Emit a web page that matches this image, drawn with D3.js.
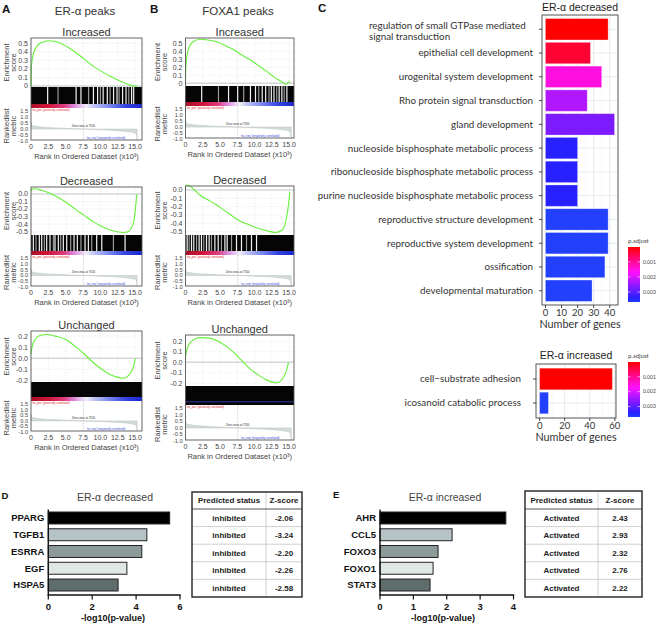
<!DOCTYPE html>
<html>
<head>
<meta charset="utf-8">
<title>ER-α / FOXA1 peaks</title>
<script src="https://cdnjs.cloudflare.com/ajax/libs/d3/7.8.5/d3.min.js"></script>
<style>
  body { margin: 0; background: #fff; }
  svg { display: block; font-family: "Liberation Sans", Arial, sans-serif; }
  .panel { font-weight: bold; fill: #111; }
  .gtitle { font-size: 11px; fill: #333; }
  .gtick { font-size: 7px; fill: #444; }
  .mtick { font-size: 5.6px; fill: #444; }
  .gaxis { font-size: 7.5px; fill: #444; }
  .tiny { font-size: 2.8px; }
  .go-label { font-family: Lato, "Open Sans", sans-serif; font-size: 9.8px; fill: #333; }
  .go-tick { font-family: Lato, "Open Sans", sans-serif; font-size: 9.5px; fill: #333; }
  .go-title { font-family: Lato, "Open Sans", sans-serif; font-size: 10.8px; fill: #333; }
  .leg { font-family: Lato, sans-serif; fill: #444; }
  .reg { font-weight: bold; fill: #111; }
  .tbl { font-weight: bold; font-size: 8px; fill: #222; }
</style>
</head>
<body>
<script>
// ---------- GSEA data (rank in x10^3, enrichment score) ----------
const rankTicks = [0, 2.5, 5, 7.5, 10, 12.5, 15];
const rankLabels = ["0", "2.5", "5.0", "7.5", "10.0", "12.5", "15.0"];
const metricTicks = [1.5, 1.0, 0.5, 0.0, -0.5, -1.0];
const metricLabels = ["1.5", "1.0", "0.5", "0.0", "-0.5", "-1.0"];

const esTicksInc = [0.5, 0.4, 0.3, 0.2, 0.1, 0];
const esLabelsInc = ["0.5", "0.4", "0.3", "0.2", "0.1", "0"];
const esTicksDec = [0, -0.1, -0.2, -0.3, -0.4, -0.5];
const esLabelsDec = ["0.0", "-0.1", "-0.2", "-0.3", "-0.4", "-0.5"];
const esTicksUnc = [0.2, 0.1, 0, -0.1, -0.2];
const esLabelsUnc = ["0.2", "0.1", "0.0", "-0.1", "-0.2"];

const esAInc = [[0,0],[0.05,0.22],[0.3,0.36],[0.8,0.46],[1.5,0.51],[2.6,0.53],[4,0.51],[5.2,0.46],[6.5,0.39],[7.6,0.32],[9,0.23],[10,0.18],[11.5,0.11],[12.5,0.07],[13.5,0.035],[14.3,0.01],[15,0],[15.3,0]];
const esADec = [[0,0.04],[0.1,0.06],[0.5,0.07],[1.5,0.05],[2.7,0.01],[4,-0.05],[5.2,-0.12],[6.5,-0.21],[7.6,-0.28],[9,-0.37],[10,-0.42],[11.2,-0.47],[12.4,-0.5],[13.3,-0.51],[14,-0.5],[14.4,-0.46],[14.8,-0.37],[15.05,-0.2],[15.25,0]];
const esAUnc = [[0,0.04],[0.15,0.1],[0.6,0.17],[1.3,0.205],[2.3,0.215],[3.5,0.2],[5.15,0.165],[6.5,0.1],[7.55,0.045],[9,-0.04],[10,-0.09],[11.2,-0.14],[12.4,-0.17],[13.3,-0.18],[14.3,-0.135],[14.8,-0.07],[15.05,0]];
const esBInc = [[0,0.05],[0.05,0.2],[0.4,0.42],[1.1,0.52],[2.1,0.55],[3.3,0.54],[4.5,0.52],[6,0.46],[7,0.42],[8.2,0.35],[9.4,0.29],[10.6,0.22],[11.8,0.145],[12.8,0.08],[13.5,0.04],[14.3,0],[14.6,-0.015],[14.9,0.015],[15.2,0.02]];
const esBDec = [[0,0.06],[0.6,0.05],[1.3,0.0],[2.07,-0.06],[3.3,-0.12],[4.5,-0.18],[5.7,-0.25],[6.9,-0.32],[8.1,-0.38],[9.3,-0.42],[10.5,-0.46],[11.8,-0.49],[13,-0.51],[14,-0.48],[14.6,-0.34],[14.9,-0.18],[15.1,-0.02]];
const esBUnc = [[0,0.05],[0.2,0.12],[0.6,0.18],[1.3,0.22],[2.07,0.235],[3.5,0.23],[5,0.19],[6.9,0.1],[8.1,0.02],[9.3,-0.06],[10.5,-0.12],[11.8,-0.17],[13.2,-0.195],[14.2,-0.14],[14.6,-0.08],[14.9,0]];

// gaps (ranks without hits) in the black barcode
const gapsAInc = [2.4, 3.9, 6.5, 7.2, 8.3, 9.0, 9.6, 10.0, 10.4, 11.0, 11.4, 11.9, 12.4, 12.7, 13.2, 13.7, 14.1, 14.5, 14.8];
const gapsADec = [0.34, 0.72, 1.2, 1.54, 1.92, 2.26, 2.74, 3.22, 3.46, 3.94, 4.28, 4.66, 5.15, 5.72, 6.2, 6.68, 7.2, 7.79, 8.27, 8.75, 9.47, 10.2, 11.88, 13.56];
const gapsBInc = [2.34, 4.77, 6.23, 7.55, 8.42, 9.4, 10.13, 10.6, 11.1, 11.6, 12.08, 12.42, 12.8, 13.2, 13.55, 13.94, 14.28, 14.67];
const gapsBDec = [0.24, 0.53, 0.87, 1.2, 1.6, 1.97, 2.31, 2.65, 3.04, 3.42, 3.76, 4.25, 4.73, 5.2, 5.7, 6.03, 6.66, 7.38, 8.1, 8.83, 9.55, 10.28];

// ranked list metric
const rankedMetric = [[0,0.6],[0.1,0.35],[0.5,0.25],[1.5,0.18],[3,0.12],[5,0.06],[7.55,0],[10,-0.06],[12,-0.12],[14,-0.22],[15,-0.32],[15.2,-0.55],[15.3,-1.0]];
const zeroCross = 7.55;

// ---------- GO enrichment (panel C) ----------
const goDecTerms = ["regulation of small GTPase mediated\nsignal transduction", "epithelial cell development", "urogenital system development",
  "Rho protein signal transduction", "gland development", "nucleoside bisphosphate metabolic process",
  "ribonucleoside bisphosphate metabolic process", "purine nucleoside bisphosphate metabolic process",
  "reproductive structure development", "reproductive system development", "ossification", "developmental maturation"];
const goDecCounts = [39, 28, 35, 26, 43, 20, 20, 20, 39, 39, 37, 29];
const goDecPadj = [0.00002, 0.00035, 0.0015, 0.0023, 0.0027, 0.0034, 0.0034, 0.0034, 0.00366, 0.00366, 0.00366, 0.00366];
const goDecTicks = [0, 10, 20, 30, 40];

const goIncTerms = ["cell\u2212substrate adhesion", "icosanoid catabolic process"];
const goIncCounts = [58, 7];
const goIncPadj = [0.00001, 0.0037];
const goIncTicks = [0, 20, 40, 60];
const padjTicks = [0.001, 0.002, 0.003];

// ---------- upstream regulators (panels D, E) ----------
const regD = ["PPARG", "TGFB1", "ESRRA", "EGF", "HSPA5"];
const regDVal = [5.53, 4.49, 4.26, 3.58, 3.18];
const regDStatus = ["inhibited", "inhibited", "inhibited", "inhibited", "inhibited"];
const regDZ = ["-2.06", "-3.24", "-2.20", "-2.26", "-2.58"];
const regDTicks = [0, 2, 4, 6];

const regE = ["AHR", "CCL5", "FOXO3", "FOXO1", "STAT3"];
const regEVal = [3.77, 2.16, 1.74, 1.59, 1.50];
const regEStatus = ["Activated", "Activated", "Activated", "Activated", "Activated"];
const regEZ = ["2.43", "2.93", "2.32", "2.76", "2.22"];
const regETicks = [0, 1, 2, 3, 4];

const regFills = ["#000000", "#b5c3c7", "#8c9a9a", "#dfe6e6", "#5e6c6c"];

// ==========================================================
const svg = d3.select("body").append("svg").attr("width", 657).attr("height", 625);
const defs = svg.append("defs");

// red -> blue strip under the barcode
const strip = defs.append("linearGradient").attr("id", "strip");
[[0, "#a8102a"], [0.15, "#d01438"], [0.3, "#dc3c7c"], [0.38, "#dc80d4"], [0.45, "#e6c4f0"],
 [0.5, "#f0eef8"], [0.56, "#c4c8f6"], [0.7, "#7c88ee"], [0.85, "#3444e0"], [1, "#1a26d4"]]
  .forEach(s => strip.append("stop").attr("offset", s[0]).attr("stop-color", s[1]));

function drawGsea(o) {
  const g = svg.append("g");
  const x = d3.scaleLinear().domain([0, o.xMax]).range([o.x0, o.x1]);
  const esBot = o.top + o.esH, barBot = esBot + o.barH, stripBot = barBot + 4;
  const y = d3.scaleLinear().domain(o.esDomain).range([esBot, o.top]);
  const m = d3.scaleLinear().domain([1.5, -1.0]).range([stripBot + 3.2, o.bottom + 1]);

  g.append("text").attr("class", "gtitle").attr("x", (o.x0 + o.x1) / 2).attr("y", o.top - 2.5)
    .attr("text-anchor", "middle").text(o.title);

  // grid
  g.selectAll(".vg").data(rankTicks).join("line")
    .attr("x1", d => x(d)).attr("x2", d => x(d)).attr("y1", o.top).attr("y2", esBot)
    .attr("stroke", "#e2e2e2").attr("stroke-width", 0.6).attr("stroke-dasharray", "1,1");
  g.selectAll(".hg").data(o.esTicks).join("line")
    .attr("x1", o.x0).attr("x2", o.x1).attr("y1", d => y(d)).attr("y2", d => y(d))
    .attr("stroke", "#e2e2e2").attr("stroke-width", 0.6).attr("stroke-dasharray", "1,1");
  g.append("line").attr("x1", o.x0).attr("x2", o.x1).attr("y1", y(0)).attr("y2", y(0))
    .attr("stroke", "#d2d8d8").attr("stroke-width", 1.6);

  // enrichment curve
  const line = d3.line().x(d => x(d[0])).y(d => y(d[1])).curve(d3.curveMonotoneX);
  g.append("path").datum(o.es).attr("d", line).attr("fill", "none")
    .attr("stroke", "#66f03a").attr("stroke-width", 1.1);

  // barcode
  g.append("rect").attr("x", o.x0).attr("y", esBot).attr("width", o.x1 - o.x0).attr("height", o.barH).attr("fill", "#050505");
  g.selectAll(".gap").data(o.gaps).join("rect")
    .attr("x", d => x(d) - 0.6).attr("y", esBot).attr("width", 1.2).attr("height", o.barH)
    .attr("fill", (d, i) => i % 3 === 1 ? "#9a9a9a" : "#f2f2f2");

  // colour strip
  if (o.darkStrip) {
    g.append("rect").attr("x", o.x0).attr("y", barBot).attr("width", o.x1 - o.x0).attr("height", 4).attr("fill", "#050505");
    g.append("line").attr("x1", o.x0).attr("x2", o.x1).attr("y1", barBot + 0.8).attr("y2", barBot + 0.8)
      .attr("stroke", "#4450e0").attr("stroke-width", 0.7);
  } else {
    g.append("rect").attr("x", o.x0).attr("y", barBot).attr("width", o.x1 - o.x0).attr("height", 4).attr("fill", "url(#strip)");
  }

  // ranked list metric
  const area = d3.area().x(d => x(d[0])).y0(m(0)).y1(d => Math.min(m(d[1]), o.bottom)).curve(d3.curveMonotoneX);
  g.append("path").datum(rankedMetric).attr("d", area)
    .attr("fill", "#d3dada").attr("stroke", "#b9c3c3").attr("stroke-width", 0.5);
  g.append("line").attr("x1", x(zeroCross)).attr("x2", x(zeroCross)).attr("y1", stripBot).attr("y2", o.bottom)
    .attr("stroke", "#aaa").attr("stroke-width", 0.6).attr("stroke-dasharray", "1.2,1.2");
  g.append("text").attr("class", "tiny").attr("x", o.x0 + 1).attr("y", stripBot + 3).attr("fill", "#e02020")
    .text("'na_pos' (positively correlated)");
  g.append("text").attr("class", "tiny").attr("x", x(zeroCross)).attr("y", m(0) - 2).attr("fill", "#222")
    .attr("text-anchor", "middle").text("Zero cross at " + Math.round(zeroCross * 1000));
  g.append("text").attr("class", "tiny").attr("x", x(zeroCross) + 3).attr("y", o.bottom - 1.5).attr("fill", "#3040e0")
    .text("'na_neg' (negatively correlated)");

  // frame
  g.append("rect").attr("x", o.x0).attr("y", o.top).attr("width", o.x1 - o.x0).attr("height", o.bottom - o.top)
    .attr("fill", "none").attr("stroke", "#555").attr("stroke-width", 0.9);

  // axes labels
  g.selectAll(".esl").data(o.esTicks).join("text").attr("class", "gtick")
    .attr("x", o.x0 - 3).attr("y", d => y(d) + 2.4).attr("text-anchor", "end")
    .text((d, i) => o.esLabels[i]);
  g.selectAll(".ml").data(metricTicks).join("text").attr("class", "mtick")
    .attr("x", o.x0 - 3).attr("y", d => m(d) + 2).attr("text-anchor", "end")
    .text((d, i) => metricLabels[i]);
  g.selectAll(".rl").data(rankTicks).join("text").attr("class", "gtick")
    .attr("x", d => x(d)).attr("y", o.bottom + 8.5).attr("text-anchor", "middle")
    .text((d, i) => rankLabels[i]);
  g.append("text").attr("class", "gaxis").attr("x", (o.x0 + o.x1) / 2).attr("y", o.bottom + 19)
    .attr("text-anchor", "middle").text("Rank in Ordered Dataset (x10\u00b3)");

  const yTitle = (lines, yc) => lines.forEach((t, i) =>
    g.append("text").attr("class", "gaxis").attr("text-anchor", "middle")
      .attr("transform", `translate(${o.yt + i * 6.5},${yc}) rotate(-90)`).text(t));
  yTitle(["Enrichment", "score"], (o.top + esBot) / 2);
  yTitle(["Rankedlist", "metric"], (stripBot + o.bottom) / 2 + 2);
}

const colA = { x0: 31, x1: 142, xMax: 16, yt: 9 };
const colB = { x0: 185.5, x1: 294, xMax: 15.7, yt: 160 };

drawGsea({ ...colA, title: "Increased", top: 38, esH: 49, barH: 17, bottom: 140, esDomain: [-0.012, 0.562],
  es: esAInc, esTicks: esTicksInc, esLabels: esLabelsInc, gaps: gapsAInc });
drawGsea({ ...colA, title: "Decreased", top: 187, esH: 48, barH: 16, bottom: 286, esDomain: [-0.544, 0.093],
  es: esADec, esTicks: esTicksDec, esLabels: esLabelsDec, gaps: gapsADec });
drawGsea({ ...colA, title: "Unchanged", top: 331, esH: 51, barH: 15, bottom: 431, esDomain: [-0.214, 0.246],
  es: esAUnc, esTicks: esTicksUnc, esLabels: esLabelsUnc, gaps: [] });
drawGsea({ ...colB, title: "Increased", top: 38, esH: 48, barH: 16, bottom: 138, esDomain: [-0.034, 0.566],
  es: esBInc, esTicks: esTicksInc, esLabels: esLabelsInc, gaps: gapsBInc });
drawGsea({ ...colB, title: "Decreased", top: 186, esH: 49, barH: 16, bottom: 286, esDomain: [-0.54, 0.048],
  es: esBDec, esTicks: esTicksDec, esLabels: esLabelsDec, gaps: gapsBDec });
drawGsea({ ...colB, title: "Unchanged", top: 335, esH: 51, barH: 15, bottom: 440, esDomain: [-0.226, 0.26],
  es: esBUnc, esTicks: esTicksUnc, esLabels: esLabelsUnc, gaps: [], darkStrip: true });

// panel letters and column titles
svg.append("text").attr("class", "panel").attr("x", 2).attr("y", 13).style("font-size", "11.5px").text("A");
svg.append("text").attr("class", "panel").attr("x", 150).attr("y", 13).style("font-size", "11.5px").text("B");
svg.append("text").attr("class", "panel").attr("x", 318).attr("y", 12).style("font-size", "11.5px").text("C");
svg.append("text").attr("class", "panel").attr("x", 1.5).attr("y", 499).style("font-size", "9.5px").text("D");
svg.append("text").attr("class", "panel").attr("x", 333).attr("y", 498).style("font-size", "9.5px").text("E");
svg.append("text").attr("class", "gtitle").attr("x", 85).attr("y", 15).attr("text-anchor", "middle")
  .style("font-size", "11.5px").text("ER-\u03b1 peaks");
svg.append("text").attr("class", "gtitle").attr("x", 238).attr("y", 15).attr("text-anchor", "middle")
  .style("font-size", "11.5px").text("FOXA1 peaks");

// ---------- panel C ----------
function drawGo(o) {
  const g = svg.append("g");
  const x = d3.scaleLinear().domain(o.xDomain).range([o.x0, o.x1]);
  const y = d3.scaleBand().domain(d3.range(o.terms.length)).range([o.y0, o.y1])
    .paddingInner(0.1).paddingOuter(o.po);
  const color = d3.scaleLinear().domain(o.pDomain).range(["#ff0000", "#2440ff"]).interpolate(d3.interpolateHsl);

  g.append("text").attr("x", (o.x0 + o.x1) / 2).attr("y", o.titleY).attr("text-anchor", "middle")
    .style("font-size", "10.5px").attr("fill", "#222").text(o.title);

  const step = o.ticks[1] - o.ticks[0];
  const minor = o.ticks.map(d => d + step / 2).filter(d => x(d) < o.x1 - 1);
  g.selectAll(".mg").data(minor).join("line").attr("x1", d => x(d)).attr("x2", d => x(d))
    .attr("y1", o.y0).attr("y2", o.y1).attr("stroke", "#f1f4f5").attr("stroke-width", 0.6);
  g.selectAll(".vg").data(o.ticks).join("line").attr("x1", d => x(d)).attr("x2", d => x(d))
    .attr("y1", o.y0).attr("y2", o.y1).attr("stroke", "#e5eaec").attr("stroke-width", 1);
  g.selectAll(".hg").data(o.terms).join("line").attr("x1", o.x0).attr("x2", o.x1)
    .attr("y1", (d, i) => y(i) + y.bandwidth() / 2).attr("y2", (d, i) => y(i) + y.bandwidth() / 2)
    .attr("stroke", "#e5eaec").attr("stroke-width", 1);

  g.selectAll(".bar").data(o.counts).join("rect")
    .attr("x", x(0)).attr("y", (d, i) => y(i)).attr("width", d => x(d) - x(0)).attr("height", y.bandwidth())
    .attr("fill", (d, i) => color(o.padj[i])).attr("stroke", "#fff").attr("stroke-opacity", 0.35).attr("stroke-width", 0.8);

  g.append("rect").attr("x", o.x0).attr("y", o.y0).attr("width", o.x1 - o.x0).attr("height", o.y1 - o.y0)
    .attr("fill", "none").attr("stroke", "#555").attr("stroke-width", 1);

  // y ticks + labels
  g.selectAll(".yt").data(o.terms).join("line").attr("x1", o.x0 - 3).attr("x2", o.x0)
    .attr("y1", (d, i) => y(i) + y.bandwidth() / 2).attr("y2", (d, i) => y(i) + y.bandwidth() / 2)
    .attr("stroke", "#333").attr("stroke-width", 0.9);
  o.terms.forEach((t, i) => {
    const lines = t.split("\n");
    const cy = y(i) + y.bandwidth() / 2;
    if (lines.length > 1) {
      lines.forEach((l, k) => g.append("text").attr("class", "go-label").attr("x", o.multiX)
        .attr("y", cy + 1.2 + (k - (lines.length - 1) / 2) * 11.6 + 4).text(l));
    } else {
      g.append("text").attr("class", "go-label").attr("x", o.labelX).attr("y", cy + 3.4)
        .attr("text-anchor", "end").text(t);
    }
  });

  // x ticks
  g.selectAll(".xt").data(o.ticks).join("line").attr("x1", d => x(d)).attr("x2", d => x(d))
    .attr("y1", o.y1).attr("y2", o.y1 + 3).attr("stroke", "#333").attr("stroke-width", 0.9);
  g.selectAll(".xl").data(o.ticks).join("text").attr("class", "go-tick")
    .attr("x", d => x(d)).attr("y", o.y1 + 11).attr("text-anchor", "middle").text(d => d);
  g.append("text").attr("class", "go-title").attr("x", (o.x0 + o.x1) / 2).attr("y", o.y1 + 22.5)
    .attr("text-anchor", "middle").text("Number of genes");

  // colour bar legend
  const grad = defs.append("linearGradient").attr("id", o.id).attr("x1", 0).attr("y1", 0).attr("x2", 0).attr("y2", 1);
  d3.range(0, 1.0001, 0.05).forEach(t => grad.append("stop").attr("offset", t)
    .attr("stop-color", color(o.pDomain[0] + t * (o.pDomain[1] - o.pDomain[0]))));
  const ly = d3.scaleLinear().domain(o.pDomain).range([o.ly0, o.ly1]);
  g.append("text").attr("class", "leg").attr("x", o.lx).attr("y", o.ly0 - 4).style("font-size", "6px").text("p.adjust");
  g.append("rect").attr("x", o.lx).attr("y", o.ly0).attr("width", 12).attr("height", o.ly1 - o.ly0).attr("fill", `url(#${o.id})`);
  g.selectAll(".lt").data(padjTicks).join("path")
    .attr("d", d => `M${o.lx},${ly(d)}h2.4M${o.lx + 9.6},${ly(d)}h2.4`).attr("stroke", "#fff").attr("stroke-width", 0.6);
  g.selectAll(".ll").data(padjTicks).join("text").attr("class", "leg").style("font-size", "5px")
    .attr("x", o.lx + 15).attr("y", d => ly(d) + 1.8).text(d => d3.format(".3f")(d));
}

drawGo({ id: "padjDec", title: "ER-\u03b1 decreased", titleY: 10.5, terms: goDecTerms, counts: goDecCounts, padj: goDecPadj,
  ticks: goDecTicks, xDomain: [-2.15, 45.15], x0: 542, x1: 618, y0: 15, y1: 305, po: 0.15,
  pDomain: [0.0000172, 0.00366], labelX: 533, multiX: 369, lx: 628, ly0: 247, ly1: 302 });
drawGo({ id: "padjInc", title: "ER-\u03b1 increased", titleY: 358.5, terms: goIncTerms, counts: goIncCounts, padj: goIncPadj,
  ticks: goIncTicks, xDomain: [-2.9, 60.9], x0: 536, x1: 616, y0: 364, y1: 418, po: 0.175,
  pDomain: [0.00001, 0.0037], labelX: 521, multiX: 369, lx: 628, ly0: 362, ly1: 417 });

// ---------- panels D and E ----------
function drawReg(o) {
  const g = svg.append("g");
  const x = d3.scaleLinear().domain(o.xDomain).range([o.x0, o.x1]);
  const y = d3.scaleBand().domain(o.names).range([509.6, 593.4]).paddingInner(0.286).paddingOuter(0.143);

  g.append("text").attr("x", o.titleX).attr("y", 501).attr("text-anchor", "middle")
    .style("font-size", "10.5px").attr("fill", "#444").text(o.title);

  g.selectAll(".bar").data(o.values).join("rect")
    .attr("x", x(0)).attr("y", (d, i) => y(o.names[i])).attr("width", d => x(d) - x(0)).attr("height", y.bandwidth())
    .attr("fill", (d, i) => regFills[i]).attr("stroke", "#222").attr("stroke-width", 1);

  g.selectAll(".nl").data(o.names).join("text").attr("class", "reg").style("font-size", "9.5px")
    .attr("x", x(0) - 4).attr("y", d => y(d) + y.bandwidth() / 2 + 3.4).attr("text-anchor", "end").text(d => d);

  g.append("line").attr("x1", x(0)).attr("x2", x(0)).attr("y1", 509.5).attr("y2", 595)
    .attr("stroke", "#111").attr("stroke-width", 1.4);
  g.append("line").attr("x1", x(0) - 0.7).attr("x2", o.x1 + 0.7).attr("y1", 595).attr("y2", 595)
    .attr("stroke", "#111").attr("stroke-width", 1.4);
  g.selectAll(".xt").data(o.ticks).join("line").attr("x1", d => x(d)).attr("x2", d => x(d))
    .attr("y1", 595).attr("y2", 599.5).attr("stroke", "#111").attr("stroke-width", 1.2);
  g.selectAll(".xl").data(o.ticks).join("text").attr("class", "reg").style("font-size", "9.5px")
    .attr("x", d => x(d)).attr("y", 609.5).attr("text-anchor", "middle").text(d => d);
  g.append("text").attr("class", "reg").style("font-size", "9px").attr("x", o.axisX).attr("y", 620.5)
    .attr("text-anchor", "middle").text("-log10(p-value)");

  // table
  const t = o.table;
  const rows = d3.scaleBand().domain(d3.range(o.status.length)).range([t.head, t.y1]);
  const c1 = (t.x0 + t.xm) / 2, c2 = (t.xm + t.x1) / 2;
  g.append("rect").attr("x", t.x0).attr("y", t.y0).attr("width", t.x1 - t.x0).attr("height", t.y1 - t.y0)
    .attr("fill", "#fff");
  g.selectAll(".rowl").data(d3.range(1, o.status.length)).join("line")
    .attr("x1", t.x0).attr("x2", t.x1).attr("y1", d => rows(d)).attr("y2", d => rows(d))
    .attr("stroke", "#c4c4c4").attr("stroke-width", 0.8);
  g.append("line").attr("x1", t.xm).attr("x2", t.xm).attr("y1", t.y0).attr("y2", t.y1)
    .attr("stroke", "#c4c4c4").attr("stroke-width", 0.8);
  g.append("line").attr("x1", t.x0).attr("x2", t.x1).attr("y1", t.head).attr("y2", t.head)
    .attr("stroke", "#555").attr("stroke-width", 1);
  g.append("rect").attr("x", t.x0).attr("y", t.y0).attr("width", t.x1 - t.x0).attr("height", t.y1 - t.y0)
    .attr("fill", "none").attr("stroke", "#222").attr("stroke-width", 1.4);
  const hy = (t.y0 + t.head) / 2 + 2.8;
  g.append("text").attr("class", "tbl").attr("x", c1).attr("y", hy).attr("text-anchor", "middle").text("Predicted status");
  g.append("text").attr("class", "tbl").attr("x", c2).attr("y", hy).attr("text-anchor", "middle").text("Z-score");
  g.selectAll(".st").data(o.status).join("text").attr("class", "tbl").attr("text-anchor", "middle")
    .attr("x", c1).attr("y", (d, i) => rows(i) + rows.bandwidth() / 2 + 2.8).text(d => d);
  g.selectAll(".zs").data(o.z).join("text").attr("class", "tbl").attr("text-anchor", "middle")
    .attr("x", c2).attr("y", (d, i) => rows(i) + rows.bandwidth() / 2 + 2.8).text(d => d);
}

drawReg({ title: "ER-\u03b1 decreased", titleX: 115, names: regD, values: regDVal, ticks: regDTicks,
  xDomain: [0, 6], x0: 48.3, x1: 180, axisX: 113, status: regDStatus, z: regDZ,
  table: { x0: 192, xm: 266, x1: 302, y0: 492, head: 509, y1: 597 } });
drawReg({ title: "ER-\u03b1 increased", titleX: 445, names: regE, values: regEVal, ticks: regETicks,
  xDomain: [0, 4], x0: 380, x1: 513.5, axisX: 443, status: regEStatus, z: regEZ,
  table: { x0: 525, xm: 598, x1: 642, y0: 491, head: 509, y1: 597 } });
</script>
</body>
</html>
